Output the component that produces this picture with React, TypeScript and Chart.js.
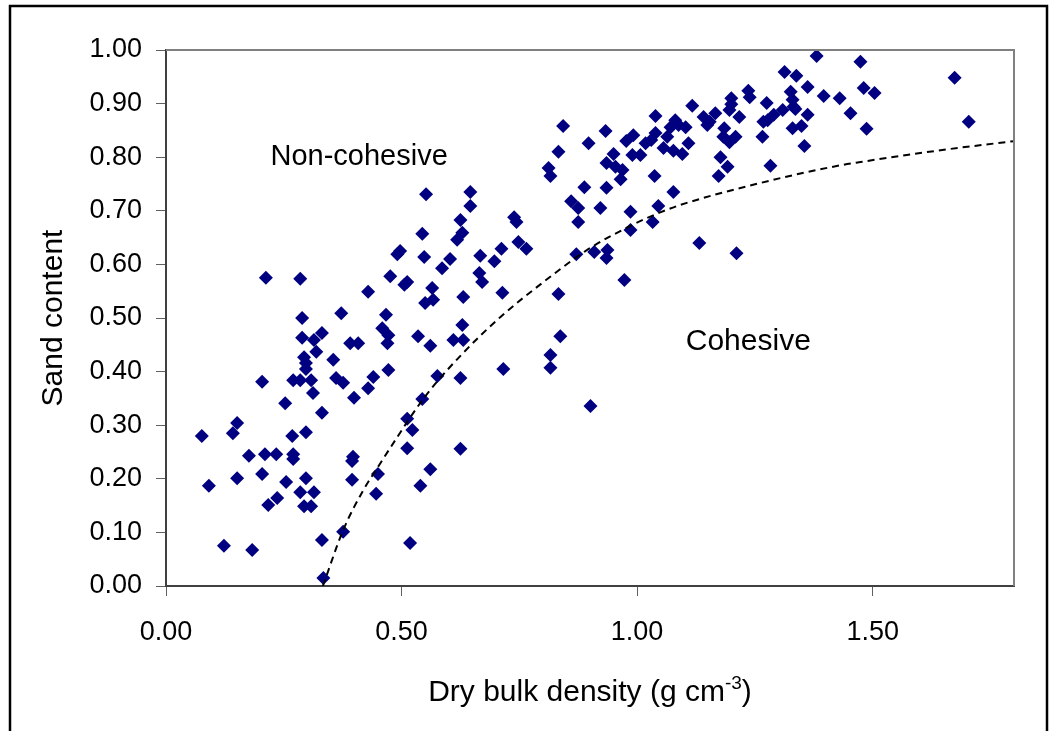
import React, { useEffect, useRef } from "react";
import { Chart, registerables } from "chart.js";

Chart.register(...registerables);

// ---- Data ----
const xTickValues = [0, 0.5, 1.0, 1.5];
const yTickValues = [0, 0.1, 0.2, 0.3, 0.4, 0.5, 0.6, 0.7, 0.8, 0.9, 1.0];

const densityValues = [
  0.212, 0.285, 0.289, 0.289, 0.314, 0.331, 0.319, 0.293, 0.355, 0.372,
  0.297, 0.297, 0.204, 0.270, 0.285, 0.308, 0.361, 0.312, 0.253, 0.331,
  0.151, 0.142, 0.076, 0.268, 0.297, 0.176, 0.210, 0.234, 0.270, 0.270,
  0.091, 0.151, 0.204, 0.255, 0.297, 0.285, 0.314, 0.217, 0.236, 0.293,
  0.308, 0.123, 0.183, 0.331, 0.334, 0.376,
  0.552, 0.646, 0.646, 0.625, 0.629, 0.618, 0.544, 0.491, 0.497, 0.548,
  0.603, 0.586, 0.667, 0.712, 0.697, 0.476, 0.506, 0.512, 0.665, 0.671,
  0.429, 0.565, 0.567, 0.550, 0.631, 0.714, 0.467, 0.459, 0.472, 0.470,
  0.391, 0.408, 0.535, 0.561, 0.629, 0.610, 0.631,
  0.376, 0.399, 0.440, 0.429, 0.472, 0.576, 0.625, 0.716, 0.544, 0.512,
  0.523, 0.512, 0.625, 0.397, 0.395, 0.395, 0.450, 0.446, 0.561, 0.540,
  0.518,
  0.833, 0.812, 0.816, 0.950, 0.990, 1.007, 0.935, 0.954, 0.969, 0.965,
  1.037, 1.077, 0.888, 0.935, 0.860, 0.875, 0.922, 0.986, 1.045, 0.739,
  0.744, 0.875, 0.986, 1.033, 0.748, 0.765, 0.871, 0.909, 0.937, 0.935,
  0.973, 0.833, 0.837, 0.816, 0.816, 0.901,
  1.381, 1.313, 1.338, 1.362, 1.236, 1.239, 1.326, 1.396, 1.430, 1.117,
  1.200, 1.200, 1.196, 1.275, 1.330, 1.332, 1.336, 1.309, 1.453, 1.141,
  1.166, 1.154, 1.149, 1.217, 1.362, 1.290, 1.277, 1.268, 1.081, 1.071,
  1.103, 1.064, 1.088, 1.185, 1.183, 1.209, 1.196, 1.330, 1.349, 1.266,
  1.109, 1.056, 1.077, 1.096, 1.355, 1.177, 1.192, 1.173, 1.283, 1.132,
  1.211,
  1.474, 1.674, 1.481, 1.504, 1.487, 1.704,
  0.843, 0.897, 0.933, 1.039, 0.977, 0.992, 1.018, 1.030, 1.039,
];

const sandValues = [
  0.575, 0.573, 0.500, 0.463, 0.459, 0.472, 0.437, 0.427, 0.422, 0.509,
  0.416, 0.405, 0.381, 0.384, 0.384, 0.384, 0.388, 0.360, 0.341, 0.323,
  0.304, 0.285, 0.280, 0.280, 0.287, 0.243, 0.246, 0.246, 0.246, 0.237,
  0.187, 0.201, 0.209, 0.194, 0.201, 0.175, 0.175, 0.151, 0.164, 0.149,
  0.149, 0.075, 0.067, 0.086, 0.015, 0.101,
  0.731, 0.735, 0.709, 0.683, 0.659, 0.646, 0.657, 0.619, 0.625, 0.614,
  0.610, 0.593, 0.616, 0.629, 0.606, 0.578, 0.562, 0.567, 0.584, 0.567,
  0.549, 0.556, 0.534, 0.528, 0.539, 0.547, 0.506, 0.481, 0.468, 0.453,
  0.453, 0.453, 0.466, 0.448, 0.487, 0.459, 0.459,
  0.379, 0.351, 0.390, 0.369, 0.403, 0.392, 0.388, 0.405, 0.349, 0.312,
  0.291, 0.257, 0.256, 0.241, 0.233, 0.198, 0.209, 0.172, 0.218, 0.187,
  0.080,
  0.810, 0.780, 0.765, 0.806, 0.804, 0.804, 0.789, 0.782, 0.776, 0.759,
  0.765, 0.735, 0.744, 0.743, 0.718, 0.705, 0.705, 0.698, 0.709, 0.688,
  0.679, 0.679, 0.664, 0.679, 0.642, 0.629, 0.619, 0.623, 0.627, 0.612,
  0.571, 0.545, 0.466, 0.431, 0.407, 0.336,
  0.989, 0.959, 0.952, 0.931, 0.924, 0.912, 0.922, 0.914, 0.910, 0.896,
  0.910, 0.899, 0.888, 0.901, 0.907, 0.894, 0.890, 0.888, 0.882, 0.875,
  0.882, 0.866, 0.860, 0.875, 0.879, 0.879, 0.869, 0.866, 0.869, 0.856,
  0.856, 0.838, 0.860, 0.854, 0.838, 0.838, 0.828, 0.854, 0.858, 0.838,
  0.826, 0.817, 0.812, 0.806, 0.821, 0.800, 0.782, 0.765, 0.784, 0.640,
  0.621,
  0.978, 0.948, 0.929, 0.920, 0.853, 0.866,
  0.858, 0.826, 0.849, 0.877, 0.830, 0.841, 0.826, 0.832, 0.845,
];

const boundaryX = [0.333, 0.376, 0.419, 0.455, 0.491, 0.525, 0.561, 0.631, 0.710, 0.801, 0.894, 0.986, 1.049, 1.092, 1.262, 1.432, 1.474, 1.644, 1.800];
const boundaryY = [0.000, 0.104, 0.179, 0.229, 0.278, 0.323, 0.366, 0.435, 0.502, 0.567, 0.627, 0.672, 0.697, 0.711, 0.752, 0.785, 0.791, 0.813, 0.830];

const regionLabels = ["Non-cohesive", "Cohesive"];
const xTitleMain = "Dry bulk density (g cm";
const xTitleSup = "-3";
const xTitleEnd = ")";
const yTitle = "Sand content";

const FONT = "'Liberation Sans', Arial, sans-serif";

const decorPlugin = {
  id: "decor",
  beforeDraw(chart: any) {
    const ctx = chart.ctx;
    ctx.save();
    ctx.fillStyle = "#ffffff";
    ctx.fillRect(0, 0, chart.width, chart.height);
    ctx.restore();
  },
  afterDraw(chart: any) {
    const ctx = chart.ctx;
    const { left, right, top, bottom } = chart.chartArea;
    ctx.save();
    // plot frame (top and right)
    ctx.strokeStyle = "#808080";
    ctx.lineWidth = 2;
    ctx.beginPath();
    ctx.moveTo(left, top);
    ctx.lineTo(right, top);
    ctx.lineTo(right, bottom);
    ctx.stroke();
    // outer border
    ctx.strokeStyle = "#000000";
    ctx.lineWidth = 2.5;
    ctx.strokeRect(10, 6, 1037, 745);

    // region labels
    const xs = chart.scales.x;
    const ys = chart.scales.y;
    ctx.fillStyle = "#000000";
    ctx.font = `29px ${FONT}`;
    ctx.textAlign = "center";
    ctx.textBaseline = "middle";
    ctx.fillText(regionLabels[0], xs.getPixelForValue(0.41), ys.getPixelForValue(0.80));
    ctx.font = `30px ${FONT}`;
    ctx.fillText(regionLabels[1], xs.getPixelForValue(1.236), ys.getPixelForValue(0.456));

    // x axis title with superscript
    ctx.textAlign = "left";
    ctx.textBaseline = "alphabetic";
    const mainFont = `30px ${FONT}`;
    const supFont = `19px ${FONT}`;
    ctx.font = mainFont;
    const w1 = ctx.measureText(xTitleMain).width;
    const w3 = ctx.measureText(xTitleEnd).width;
    ctx.font = supFont;
    const w2 = ctx.measureText(xTitleSup).width;
    const total = w1 + w2 + w3;
    const cx = (left + right) / 2;
    let x = cx - total / 2;
    const base = 701;
    ctx.font = mainFont;
    ctx.fillText(xTitleMain, x, base);
    x += w1;
    ctx.font = supFont;
    ctx.fillText(xTitleSup, x, base - 12);
    x += w2;
    ctx.font = mainFont;
    ctx.fillText(xTitleEnd, x, base);
    ctx.restore();
  },
};

export default function App() {
  const canvasRef = useRef<HTMLCanvasElement | null>(null);

  useEffect(() => {
    if (!canvasRef.current) return;
    const points = densityValues.map((d, i) => ({ x: d, y: sandValues[i] }));
    const curve = boundaryX.map((d, i) => ({ x: d, y: boundaryY[i] }));

    const chart = new Chart(canvasRef.current, {
      type: "scatter",
      data: {
        datasets: [
          {
            label: "Samples",
            data: points,
            pointStyle: "rectRot",
            pointRadius: 7,
            pointHoverRadius: 7,
            backgroundColor: "#000080",
            borderColor: "#000080",
            borderWidth: 0,
            order: 2,
          },
          {
            label: "Boundary",
            type: "line",
            data: curve,
            showLine: true,
            borderColor: "#000000",
            borderWidth: 2,
            borderDash: [7, 5],
            pointRadius: 0,
            fill: false,
            cubicInterpolationMode: "monotone",
            order: 1,
          } as any,
        ],
      },
      options: {
        responsive: false,
        devicePixelRatio: 1,
        animation: false,
        events: [],
        layout: { padding: { left: 0, top: 50, right: 44, bottom: 0 } },
        plugins: {
          legend: { display: false },
          tooltip: { enabled: false },
          title: { display: false },
        },
        scales: {
          x: {
            type: "linear",
            min: 0,
            max: 1.8,
            afterFit(scale: any) {
              scale.height = 145;
            },
            afterBuildTicks(scale: any) {
              scale.ticks = xTickValues.map((v) => ({ value: v }));
            },
            ticks: {
              font: { family: FONT, size: 27 },
              color: "#000000",
              padding: 20,
              maxRotation: 0,
              callback: (v: any) => Number(v).toFixed(2),
            },
            grid: {
              drawOnChartArea: false,
              drawTicks: true,
              tickLength: 10,
              tickColor: "#606060",
              lineWidth: 1,
            },
            border: { display: true, color: "#404040", width: 2 },
          },
          y: {
            type: "linear",
            min: 0,
            max: 1,
            afterFit(scale: any) {
              scale.width = 166;
            },
            afterBuildTicks(scale: any) {
              scale.ticks = yTickValues.map((v) => ({ value: v }));
            },
            ticks: {
              font: { family: FONT, size: 27 },
              color: "#000000",
              padding: 14,
              callback: (v: any) => Number(v).toFixed(2),
            },
            grid: {
              drawOnChartArea: false,
              drawTicks: true,
              tickLength: 10,
              tickColor: "#606060",
              lineWidth: 1,
            },
            border: { display: true, color: "#404040", width: 2 },
            title: {
              display: true,
              text: yTitle,
              color: "#000000",
              font: { family: FONT, size: 30 },
              padding: { top: 36, bottom: 0 },
            },
          },
        },
      },
      plugins: [decorPlugin],
    });
    return () => chart.destroy();
  }, []);

  return (
    <div style={{ position: "fixed", left: 0, top: 0, width: 1058, height: 731, background: "#fff" }}>
      <canvas ref={canvasRef} width={1058} height={731} style={{ width: 1058, height: 731, display: "block" }} />
    </div>
  );
}
